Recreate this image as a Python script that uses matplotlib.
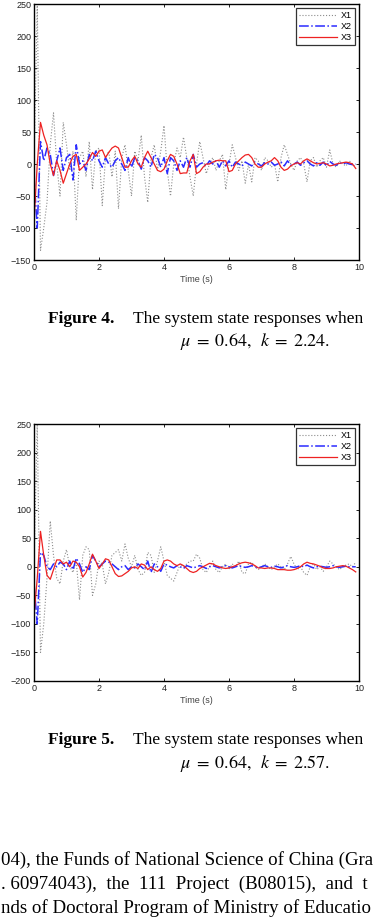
import numpy as np
import matplotlib
matplotlib.use("Agg")
import matplotlib.pyplot as plt

# time axis, 0.1 s step
t = np.round(np.arange(0, 10, 0.1), 1)

# Figure 4 : mu = 0.64, k = 2.24
x1_f4 = [0, 250, -135, -100, -60, 30, 80, 0, -50, 65,
         30, -10, 20, -88, 10, 20, -20, 35, -40, 20,
         25, -65, 10, 20, -20, 20, -70, 10, 30, -10,
         -50, 20, 5, 45, -20, -60, 10, 30, -10, 20,
         60, -10, -50, 0, 25, 10, 42, 10, -20, -50,
         0, 35, 10, -15, 0, 10, -10, 5, 15, -40,
         0, 30, 10, -10, 5, -30, 0, -28, 10, 5,
         -10, 10, 5, -5, 0, -28, 10, 30, 15, 0,
         -10, 5, 10, 0, -28, 5, 10, -5, 5, 10,
         -5, 22, 0, -5, 5, 0, -3, 5, 0, -5]
x2_f4 = [-20, -100, 35, 5, 25, 15, -18, 5, 25, -10,
         10, 15, -25, 30, 0, 5, -10, 15, 5, 20,
         5, -5, 10, 0, -5, 5, 10, 0, -10, 10,
         -5, 10, 5, -8, 10, 5, -5, 15, 10, -5,
         10, -15, 10, 5, -10, 5, -5, 10, -5, 15,
         -5, 0, 2, -3, 5, 0, 5, -5, 5, -3,
         5, -5, 3, 0, -3, 3, 0, -3, 3, 0,
         -3, 2, 0, 3, -2, 0, 3, -3, 5, -2,
         0, 3, -2, 2, 5, 0, -3, 2, -2, 3,
         -3, 4, 0, -2, 2, 0, 2, 0, -1, 0]
x3_f4 = [-90, 0, 65, 45, 30, 0, -18, 5, -10, -30,
         -15, 0, 12, 15, -10, -5, 0, 8, 18, 12,
         20, 22, 10, 18, 25, 28, 25, 10, -5, -5,
         5, 12, 0, -5, 10, 20, 10, 0, -10, -12,
         -8, 5, 15, 12, 0, -15, -14, -14, 5, 15,
         -15, -12, -5, 0, 0, 3, 5, 6, 5, 5,
         -12, -10, 0, 5, 10, 14, 15, 10, 0, -5,
         -5, 0, 3, 5, 10, 5, -5, -10, -8, -3,
         0, 2, 0, 5, 8, 5, 2, 0, 1, 2,
         0, -3, -2, 0, 1, 2, 3, 2, 0, -7]

# Figure 5 : mu = 0.64, k = 2.57
x1_f5 = [0, 250, -150, -100, -20, 80, 20, -20, -30, 10,
         30, 0, -10, 10, -58, 20, 35, 30, -50, -30,
         10, 5, -30, -10, 20, 25, 30, 10, 40, 15,
         0, 20, -5, -15, -10, 25, 20, -10, 10, 35,
         10, -15, -20, -25, -10, 5, 0, 5, 10, 10,
         22, 15, -5, -10, 0, 10, -5, -10, 0, 5,
         -5, 5, 0, 10, -10, -12, 5, 8, 0, -5,
         0, 5, 0, -5, 0, 5, 0, -5, 5, 18,
         5, -5, 0, -10, -15, 0, 5, -5, 0, -8,
         0, 10, 5, 0, -5, 0, 3, 5, 0, 8]
x2_f5 = [-30, -100, 25, 20, 0, -5, 5, 0, 8, 5,
         -5, 10, -5, 15, 5, -10, 0, -5, 20, 10,
         0, 5, 10, 8, 5, 0, -5, 0, 2, -5,
         0, -2, 5, 0, -5, 10, -10, 5, 0, -8,
         5, 3, 0, -2, 2, 0, -3, 2, 0, -2,
         0, 2, 0, -3, 0, 2, 0, -2, 0, 2,
         0, -2, 0, 2, 0, -1, 0, 2, 0, -2,
         0, 2, 0, -1, 1, 0, -2, 0, 2, 0,
         -1, 0, 2, 0, 3, 0, -2, 0, 1, 0,
         -1, 0, 2, 0, -1, 0, 1, 0, 0, 0]
x3_f5 = [-85, -20, 62, 20, -15, -22, -5, 12, 12, 5,
         8, 0, 10, 8, 0, -18, -10, 5, 22, 10,
         -3, 5, 14, 12, 0, -12, -17, -16, -12, -8,
         -2, 0, -3, 5, 3, -5, 0, -5, -8, -3,
         10, 12, 10, 5, 2, 5, 2, -3, -8, -10,
         -8, -3, 0, 3, 6, 5, 2, 0, -2, -3,
         -2, 0, 2, 5, 7, 8, 7, 5, 2, -2,
         -2, -3, -2, -2, -3, -5, -5, -5, -6, -6,
         -5, -3, 0, 5, 8, 6, 5, 3, 1, -2,
         -3, -3, -2, 0, 1, 2, 1, -2, -5, -9]

captions = [('Figure 4.', '2.24'), ('Figure 5.', '2.57')]
body = ['04), the Funds of National Science of China (Gra',
        '. 60974043),  the  111  Project  (B08015),  and  t',
        'nds of Doctoral Program of Ministry of Educatio']

plt.rcParams['font.family'] = ['Liberation Sans', 'DejaVu Sans']
plt.rcParams['mathtext.fontset'] = 'stix'

W, H = 383, 924
fig = plt.figure(figsize=(W / 100, H / 100), dpi=100)
fig.set_facecolor('white')


def panel(top_px, bot_px, ymin, x1, x2, x3):
    ax = fig.add_axes([34 / W, 1 - bot_px / H, 325 / W, (bot_px - top_px) / H])
    ax.plot(t, x1, color='#8c8c8c', linestyle=':', linewidth=0.8, label='X1')
    ax.plot(t, x2, color='#2b2bff', linestyle='-.', linewidth=1.1, label='X2')
    ax.plot(t, x3, color='#ee2222', linestyle='-', linewidth=0.9, label='X3')
    ax.set_xlim(0, 10)
    ax.set_ylim(ymin, 250)
    ax.set_xticks(range(0, 11, 2))
    ax.set_yticks(range(ymin, 251, 50))
    ax.tick_params(direction='in', top=True, right=True, length=2.5, width=0.6,
                   labelsize=6.5, labelcolor='#222222', pad=2)
    for s in ax.spines.values():
        s.set_linewidth(1.0)
    ax.set_xlabel('Time (s)', fontsize=6.5, color='#444444', labelpad=2)
    leg = ax.legend(loc='upper right', fontsize=6.5, frameon=True, fancybox=False,
                    borderpad=0.35, labelspacing=0.2, handlelength=4.2,
                    handletextpad=0.4, borderaxespad=0.45)
    leg.get_frame().set_edgecolor('black')
    leg.get_frame().set_linewidth(0.9)
    return ax


panel(4, 260, -150, x1_f4, x2_f4, x3_f4)
panel(424, 681, -200, x1_f5, x2_f5, x3_f5)

serif = ['Liberation Serif', 'DejaVu Serif']


def caption(base_px, label, val):
    y1 = 1 - base_px / H
    y2 = 1 - (base_px + 23.5) / H
    fig.text(48 / W, y1, label, family=serif, weight='bold',
             fontsize=12.5, va='baseline')
    fig.text(133 / W, y1, 'The system state responses when', family=serif,
             fontsize=12.5, va='baseline')
    fig.text(180 / W, y2, r'$\mu\;=\;0.64,\;\;k\;=\;%s.$' % val, fontsize=13,
             va='baseline')


caption(323, *captions[0])
caption(744, *captions[1])

for i, line in enumerate(body):
    fig.text(1 / W, 1 - (865 + 24 * i) / H, line, family=serif, fontsize=13.6,
             va='baseline')

plt.savefig('out.png', dpi=100)
